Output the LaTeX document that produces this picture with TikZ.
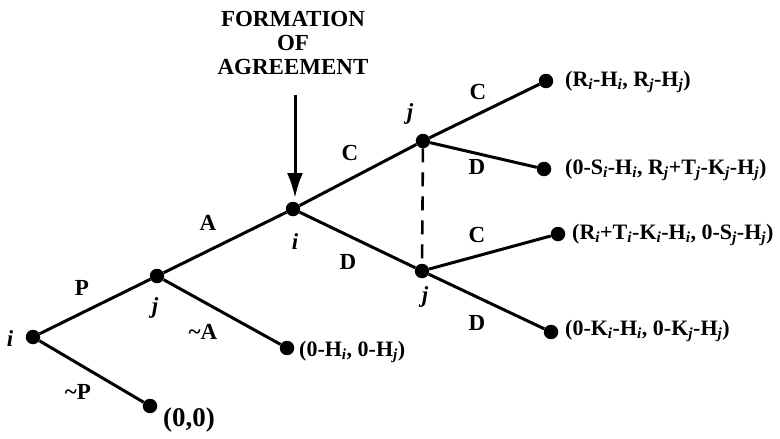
\documentclass[tikz,border=0pt]{standalone}
\usepackage{fontspec}
\setmainfont{Liberation Serif}
\usetikzlibrary{arrows.meta,positioning}

\newcommand{\subi}{\textsubscript{\itshape i}}
\newcommand{\subj}{\textsubscript{\itshape j}}

\begin{document}
\begin{tikzpicture}[x=1pt, y=-1pt,
  dot/.style={circle, fill=black, inner sep=0pt, minimum size=14.5pt},
  branch/.style={line width=3pt},
  lbl/.style={font=\fontsize{23}{26}\selectfont\bfseries, inner sep=0pt},
  who/.style={font=\fontsize{23}{26}\selectfont\bfseries\itshape, inner sep=0pt},
  payoff/.style={font=\fontsize{22}{26}\selectfont\bfseries, inner sep=0pt, anchor=west}]
  \useasboundingbox (0,0) rectangle (780,439);

  % Decision nodes
  \node[dot] (i1) at ( 33,337) {};
  \node[dot] (j1) at (157,276) {};
  \node[dot] (i2) at (293,209) {};
  \node[dot] (j2) at (423,141) {};
  \node[dot] (j3) at (422,271) {};

  % End nodes
  \node[dot] (t00) at (150,406) {};
  \node[dot] (t0H) at (287,348) {};
  \node[dot] (tRR) at (546, 81) {};
  \node[dot] (t0S) at (544,169) {};
  \node[dot] (tRT) at (558,234) {};
  \node[dot] (t0K) at (551,332) {};

  % Branches
  \draw[branch] (i1) -- (j1);
  \draw[branch] (i1) -- (t00);
  \draw[branch] (j1) -- (i2);
  \draw[branch] (j1) -- (t0H);
  \draw[branch] (i2) -- (j2);
  \draw[branch] (i2) -- (j3);
  \draw[branch] (j2) -- (tRR);
  \draw[branch] (j2) -- (t0S);
  \draw[branch] (j3) -- (tRT);
  \draw[branch] (j3) -- (t0K);
  \draw[line width=2.6pt, dash pattern=on 14pt off 10pt] (j2) -- (j3);

  % Players
  \node[who] (pi1) at ( 10,339) {i};
  \node[who] (pj1) at (155,308) {j};
  \node[who] (pi2) at (295,242) {i};
  \node[who] (pj2) at (410,114) {j};
  \node[who] (pj3) at (425,297) {j};

  % Moves
  \node[lbl] (mP)  at ( 82,288) {P};
  \node[lbl] (mnP) at ( 78,392) {\textasciitilde P};
  \node[lbl] (mA)  at (208,223) {A};
  \node[lbl] (mnA) at (203,332) {\textasciitilde A};
  \node[lbl] (mC)  at (350,153) {C};
  \node[lbl] (mD)  at (348,262) {D};
  \node[lbl] (mCC) at (478, 92) {C};
  \node[lbl] (mCD) at (477,167) {D};
  \node[lbl] (mDC) at (477,235) {C};
  \node[lbl] (mDD) at (477,323) {D};

  % Payoffs
  \node[payoff, font=\fontsize{27}{30}\selectfont\bfseries] (p00) at (163,420) {(0,0)};
  \node[payoff] (p0H) at (299,352) {(0-H\subi, 0-H\subj)};
  \node[payoff] (pRR) at (565, 82) {(R\subi-H\subi, R\subj-H\subj)};
  \node[payoff] (p0S) at (565,170) {(0-S\subi-H\subi, R\subj+T\subj-K\subj-H\subj)};
  \node[payoff] (pRT) at (572,235) {(R\subi+T\subi-K\subi-H\subi, 0-S\subj-H\subj)};
  \node[payoff] (p0K) at (565,331) {(0-K\subi-H\subi, 0-K\subj-H\subj)};

  % Agreement marker
  \node[font=\fontsize{23}{24}\selectfont\bfseries, align=center] (agree) at (293,43)
    {FORMATION\\OF\\AGREEMENT};
  \coordinate (arrtop) at (295,95);
  \draw[line width=3pt, -{Latex[length=25pt,width=16pt]}, shorten >=11pt]
    (arrtop) -- (arrtop |- i2);
\end{tikzpicture}
\end{document}
